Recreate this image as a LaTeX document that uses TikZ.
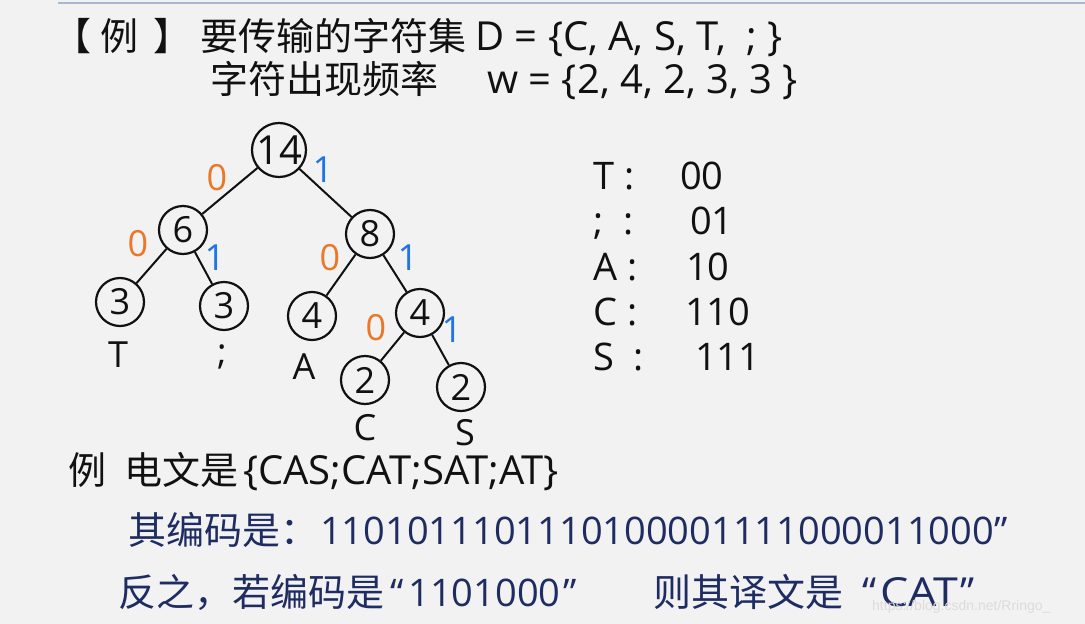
\documentclass[tikz,border=0pt]{standalone}
\usepackage{fontspec}
\usepackage{graphicx}
\setmainfont{Open Sans}
\newfontfamily\zhfont{Noto Sans CJK SC}
\newfontfamily\wmfont{Liberation Sans}
\definecolor{bgc}{HTML}{F2F2F2}
\definecolor{topline}{HTML}{A9B9CE}
\definecolor{orng}{HTML}{E8782A}
\definecolor{blu}{HTML}{1F74E6}
\definecolor{navy}{HTML}{1E2C62}
\definecolor{ink}{HTML}{111111}
\definecolor{wmc}{HTML}{DCDCDC}
\tikzset{
  hnode/.style={circle, draw=ink, line width=2.2pt, minimum size=48pt, inner sep=0pt, text=ink, font=\fontsize{36}{36}\selectfont},
  bignode/.style={hnode, minimum size=54pt, font=\fontsize{40}{40}\selectfont},
  edge/.style={draw=ink, line width=2pt},
  zerolab/.style={text=orng, inner sep=0pt, font=\fontsize{36}{36}\selectfont},
  onelab/.style={text=blu, inner sep=0pt, font=\fontsize{36}{36}\selectfont},
  leaflab/.style={text=ink, inner sep=0pt, font=\fontsize{36}{36}\selectfont},
  txt/.style={anchor=base west, inner sep=0pt, text=ink, font=\fontsize{38}{40}\selectfont},
  ltxt/.style={txt, font=\fontsize{40}{42}\selectfont},
  ntxt/.style={txt, text=navy},
  nltxt/.style={ltxt, text=navy},
}
\begin{document}
\begin{tikzpicture}[x=1pt,y=-1pt]
\fill[bgc] (0,0) rectangle (1085,624);
\useasboundingbox (0,0) rectangle (1085,624);
\coordinate (tl0) at (58,3);
\coordinate (tl1) at (1085,3);
\draw[topline, line width=2pt] (tl0) -- (tl1);

% header
\node[txt] (h1a) at (53,50) {\zhfont 【};
\node[txt] (h1b) at (100,50) {\zhfont 例};
\node[txt] (h1c) at (153,50) {\zhfont 】};
\node[txt] (h1d) at (200,50) {\zhfont 要传输的字符集};
\node[ltxt] (h1e) at (475,50) {D = \{C, A, S, T, \ ; \}};
\node[txt] (h2a) at (210,93) {\zhfont 字符出现频率};
\node[ltxt] (h2b) at (487,93) {w = \{2, 4, 2, 3, 3 \}};

% tree
\node[bignode] (n14) at (279,150) {14};
\node[hnode] (n6) at (183,230) {6};
\node[hnode] (n8) at (370,234) {8};
\node[hnode] (t3) at (120,302) {3};
\node[hnode] (s3) at (224,306) {3};
\node[hnode] (a4) at (312,316) {4};
\node[hnode] (i4) at (420,313) {4};
\node[hnode] (c2) at (365,380) {2};
\node[hnode] (s2) at (461,387) {2};

\draw[edge] (n14) -- (n6);
\draw[edge] (n14) -- (n8);
\draw[edge] (n6) -- (t3);
\draw[edge] (n6) -- (s3);
\draw[edge] (n8) -- (a4);
\draw[edge] (n8) -- (i4);
\draw[edge] (i4) -- (c2);
\draw[edge] (i4) -- (s2);

\node[zerolab] (l1) at (217,178) {0};
\node[onelab] (l2) at (323,170) {1};
\node[zerolab] (l3) at (138,244) {0};
\node[onelab] (l4) at (215,258) {1};
\node[zerolab] (l5) at (330,258) {0};
\node[onelab] (l6) at (408,258) {1};
\node[zerolab] (l7) at (376,328) {0};
\node[onelab] (l8) at (452,330) {1};

\node[leaflab] (lt) at (118,355) {T};
\node[leaflab] (ls) at (222,357) {;};
\node[leaflab] (la) at (304,367) {A};
\node[leaflab] (lc) at (365,428) {C};
\node[leaflab] (lS) at (465,433) {S};

% code table
\node[txt] (c1a) at (593,189) {T :};
\node[txt] (c1b) at (680,189) {00};
\node[txt] (c2a) at (593,234) {;\ \ :};
\node[txt] (c2b) at (690,234) {01};
\node[txt] (c3a) at (593,280) {A :};
\node[txt] (c3b) at (686,280) {10};
\node[txt] (c4a) at (593,325) {C :};
\node[txt] (c4b) at (685,325) {110};
\node[txt] (c5a) at (593,370) {S \ :};
\node[txt] (c5b) at (695,370) {111};

% bottom text
\node[txt] (b1a) at (68,484) {\zhfont 例};
\node[txt] (b1b) at (124,484) {\zhfont 电文是};
\node[ltxt] (b1c) at (243,484) {\{CAS;CAT;SAT;AT\}};
\node[ntxt] (b2a) at (128,544) {\zhfont 其编码是：};
\node[ntxt] (b2b) at (320,544) {1101011101110100001111000011000”};
\node[ntxt] (b3a) at (118,606) {\zhfont 反之，若编码是};
\node[ntxt] (b3b) at (390,606) {“\hspace{5pt}1101000\hspace{3pt}”};
\node[ntxt] (b3c) at (653,606) {\zhfont 则其译文是};
\node[nltxt] (b3d) at (862,606) {“\hspace{4pt}\scalebox{1.12}[1]{CAT}\hspace{2pt}”};

\node[anchor=base west, inner sep=0pt, text=wmc, font=\wmfont\fontsize{14}{14}\selectfont] (wm) at (872,610) {https://blog.csdn.net/Rringo\_};
\end{tikzpicture}
\end{document}
